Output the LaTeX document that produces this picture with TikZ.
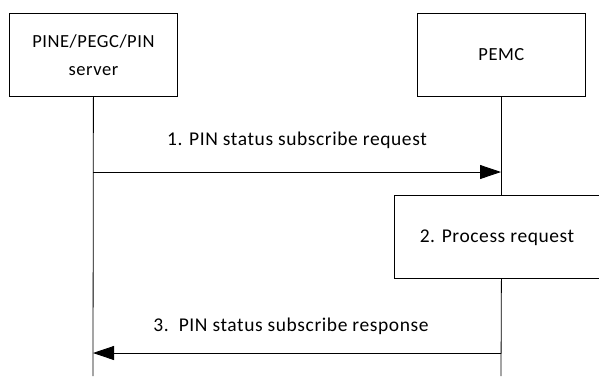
\documentclass[tikz,border=0pt]{standalone}
\usepackage{fontspec}
\setmainfont{Carlito}[LetterSpace=3]
\usetikzlibrary{arrows.meta}
\begin{document}
\begin{tikzpicture}[x=1pt,y=-1pt,
  every node/.style={font=\fontsize{18.5}{28}\selectfont},
  entity/.style={draw, line width=0.8pt, minimum width=168pt, minimum height=83pt, align=center, anchor=north west, inner sep=0pt},
  lifeline/.style={draw, line width=0.8pt},
  msg/.style={draw, line width=0.8pt, -{Triangle[length=21pt,width=14pt]}},
  lbl/.style={inner sep=0pt, font=\fontsize{19.5}{24}\selectfont}]
\useasboundingbox (0,0) rectangle (599,376);
\node[entity] (srv) at (9,13) {PINE/PEGC/PIN\\server};
\node[entity] (pemc) at (417,13) {PEMC};
\coordinate (srvEnd) at (93,376);
\coordinate (pemcEnd) at (501,376);
\coordinate (s1) at (93,172);
\coordinate (p1) at (501,172);
\coordinate (s3) at (93,353);
\coordinate (p3) at (501,353);
\node[draw, line width=0.8pt, minimum width=216pt, minimum height=83pt, anchor=north west, inner sep=0pt] (proc) at (394,195) {};
\node[lbl] (proclbl) at (497,238) {2. Process request};
\draw[lifeline] (srv.south) -- (srvEnd);
\draw[lifeline] (pemc.south) -- (proc.north -| pemc.south);
\draw[lifeline] (proc.south -| pemc.south) -- (pemcEnd);
\draw[msg] (s1) -- (p1);
\draw[msg] (p3) -- (s3);
\node[lbl] (m1) at (297,140) {1. PIN status subscribe request};
\node[lbl] (m3) at (291,326) {3.\ \ PIN status subscribe response};
\end{tikzpicture}
\end{document}
